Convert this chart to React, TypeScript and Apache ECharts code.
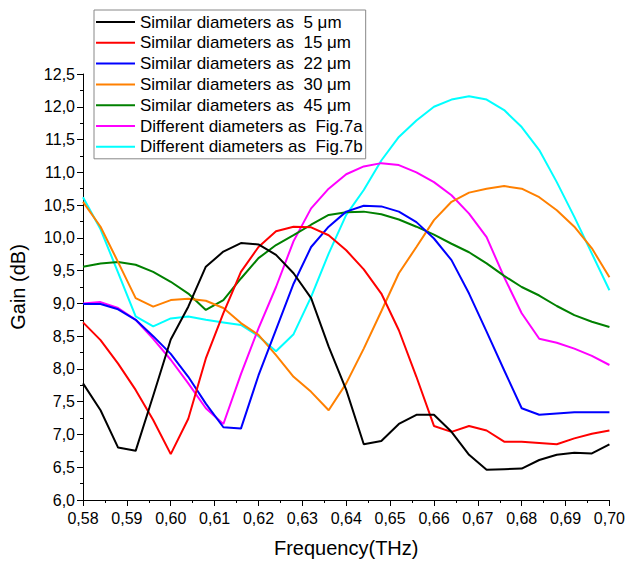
import React, { useEffect, useRef } from "react";
import * as echarts from "echarts";

const freq = [0.580, 0.584, 0.588, 0.592, 0.596, 0.600, 0.604, 0.608, 0.612, 0.616, 0.620, 0.624, 0.628, 0.632, 0.636, 0.640, 0.644, 0.648, 0.652, 0.656, 0.660, 0.664, 0.668, 0.672, 0.676, 0.680, 0.684, 0.688, 0.692, 0.696, 0.700];

const names = [
  "Similar diameters as \u00a05 μm",
  "Similar diameters as \u00a015 μm",
  "Similar diameters as \u00a022 μm",
  "Similar diameters as \u00a030 μm",
  "Similar diameters as \u00a045 μm",
  "Different diameters as \u00a0Fig.7a",
  "Different diameters as \u00a0Fig.7b",
];

const colors = ["#000000", "#ff0000", "#0000ff", "#ff8000", "#008000", "#ff00ff", "#00ffff"];

const gain5 = [7.78, 7.37, 6.80, 6.75, 7.59, 8.45, 8.95, 9.56, 9.79, 9.92, 9.90, 9.74, 9.46, 9.08, 8.34, 7.68, 6.85, 6.90, 7.16, 7.30, 7.30, 7.04, 6.69, 6.46, 6.47, 6.48, 6.61, 6.69, 6.72, 6.71, 6.85];
const gain15 = [8.71, 8.44, 8.08, 7.68, 7.22, 6.70, 7.24, 8.16, 8.85, 9.48, 9.86, 10.10, 10.17, 10.16, 10.04, 9.81, 9.52, 9.15, 8.59, 7.88, 7.13, 7.04, 7.13, 7.06, 6.89, 6.89, 6.87, 6.85, 6.94, 7.01, 7.06];
const gain22 = [8.99, 8.99, 8.91, 8.75, 8.50, 8.23, 7.88, 7.47, 7.11, 7.09, 7.90, 8.60, 9.30, 9.86, 10.17, 10.40, 10.49, 10.48, 10.40, 10.24, 9.99, 9.66, 9.15, 8.57, 7.98, 7.40, 7.30, 7.32, 7.34, 7.34, 7.34];
const gain30 = [10.55, 10.17, 9.63, 9.08, 8.95, 9.05, 9.07, 9.04, 8.93, 8.70, 8.52, 8.21, 7.88, 7.65, 7.37, 7.78, 8.31, 8.88, 9.46, 9.86, 10.27, 10.55, 10.69, 10.75, 10.79, 10.75, 10.62, 10.42, 10.17, 9.84, 9.40];
const gain45 = [9.56, 9.61, 9.63, 9.59, 9.48, 9.33, 9.15, 8.90, 9.05, 9.38, 9.69, 9.89, 10.04, 10.20, 10.35, 10.39, 10.40, 10.36, 10.28, 10.17, 10.05, 9.91, 9.78, 9.61, 9.42, 9.25, 9.12, 8.96, 8.82, 8.72, 8.64];
const gain7a = [9.00, 9.02, 8.93, 8.75, 8.46, 8.14, 7.78, 7.40, 7.16, 7.92, 8.62, 9.25, 9.95, 10.45, 10.75, 10.97, 11.09, 11.14, 11.11, 11.00, 10.85, 10.65, 10.37, 10.01, 9.40, 8.85, 8.46, 8.40, 8.31, 8.20, 8.06];
const gain7b = [10.62, 10.13, 9.47, 8.80, 8.65, 8.77, 8.80, 8.75, 8.71, 8.67, 8.50, 8.27, 8.53, 9.10, 9.76, 10.35, 10.73, 11.18, 11.54, 11.79, 12.00, 12.11, 12.16, 12.11, 11.95, 11.69, 11.34, 10.85, 10.32, 9.76, 9.20];

const allGains = [gain5, gain15, gain22, gain30, gain45, gain7a, gain7b];

const FONT = "'Liberation Sans', Arial, sans-serif";

export default function App() {
  const ref = useRef<HTMLDivElement>(null);
  useEffect(() => {
    document.body.style.margin = "0";
    const chart = echarts.init(ref.current!, null, { renderer: "svg" });
    chart.setOption({
      animation: false,
      backgroundColor: "#ffffff",
      textStyle: { fontFamily: FONT },
      grid: { left: 83, right: 17, top: 74, bottom: 68, containLabel: false },
      legend: {
        orient: "vertical",
        left: 94,
        top: 10,
        padding: [3, 3, 3, 1],
        itemGap: 2.8,
        itemWidth: 39,
        itemHeight: 14,
        borderColor: "#888888",
        borderWidth: 1,
        itemStyle: { opacity: 0 },
        textStyle: { fontSize: 17, color: "#000", fontFamily: FONT, lineHeight: 18 },
        data: names,
      },
      xAxis: {
        type: "value",
        min: 0.58,
        max: 0.7,
        interval: 0.01,
        name: "Frequency(THz)",
        nameLocation: "middle",
        nameGap: 38,
        nameTextStyle: { fontSize: 20, color: "#000", fontFamily: FONT },
        axisLine: { lineStyle: { color: "#000", width: 1 } },
        axisTick: { show: true, length: 6, lineStyle: { color: "#000" } },
        minorTick: { show: true, splitNumber: 2, length: 3, lineStyle: { color: "#000" } },
        splitLine: { show: false },
        axisLabel: {
          fontSize: 16,
          color: "#000",
          margin: 10,
          formatter: (v: number) => v.toFixed(2).replace(".", ","),
        },
      },
      yAxis: {
        type: "value",
        min: 6,
        max: 12.5,
        interval: 0.5,
        name: "Gain (dB)",
        nameLocation: "middle",
        nameGap: 55,
        nameTextStyle: { fontSize: 20, color: "#000", fontFamily: FONT },
        axisLine: { show: true, lineStyle: { color: "#000", width: 1 } },
        axisTick: { show: true, length: 6, lineStyle: { color: "#000" } },
        minorTick: { show: true, splitNumber: 2, length: 3, lineStyle: { color: "#000" } },
        splitLine: { show: false },
        axisLabel: {
          fontSize: 16,
          color: "#000",
          margin: 8,
          formatter: (v: number) => v.toFixed(1).replace(".", ","),
        },
      },
      series: allGains.map((g, k) => ({
        type: "line",
        name: names[k],
        data: g.map((v, i) => [freq[i], v]),
        symbol: "none",
        showSymbol: false,
        color: colors[k],
        lineStyle: { color: colors[k], width: 2 },
        z: 10 - k,
      })),
    });
    return () => chart.dispose();
  }, []);
  return <div ref={ref} style={{ width: 628, height: 568 }} />;
}
